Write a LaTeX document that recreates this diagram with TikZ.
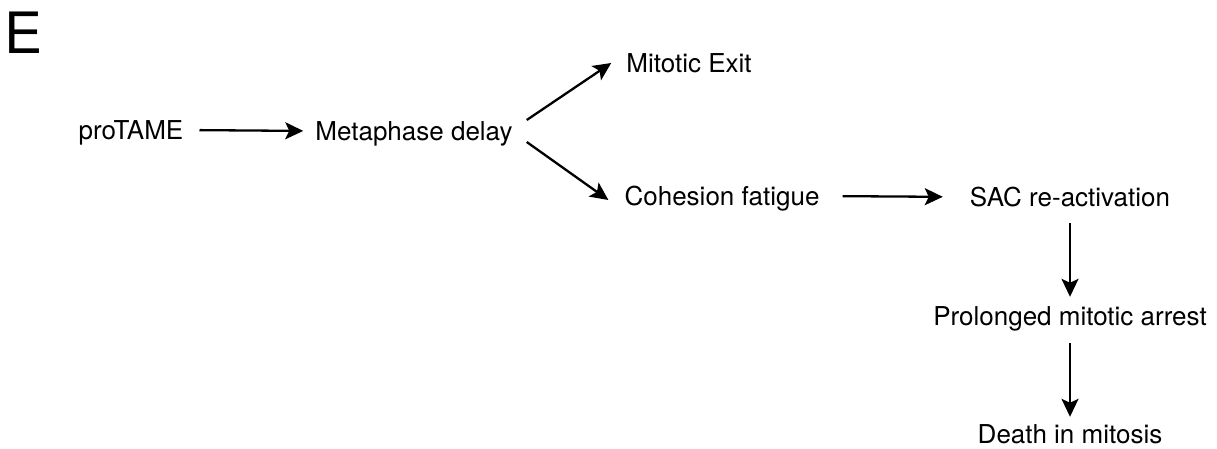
\documentclass[tikz,border=0pt]{standalone}
\usepackage{fontspec}
\setmainfont{TeX Gyre Heros}
\usetikzlibrary{arrows.meta}
\begin{document}
\begin{tikzpicture}[x=1pt,y=-1pt,
  lbl/.style={inner sep=0pt,text height=18pt,text depth=0pt,anchor=base,font=\fontsize{26}{30}\selectfont},
  arr/.style={line width=2.3pt,-{Stealth[length=18pt,width=17pt,inset=4pt]}}]
\useasboundingbox (0,0) rectangle (1217,448);
\node[inner sep=0pt,anchor=base west,font=\fontsize{57}{60}\selectfont] (E) at (4,53) {E};
\node[lbl] (pt) at (131,139) {proTAME};
\node[lbl] (md) at (414,140) {Metaphase delay};
\node[lbl] (me) at (689,72) {Mitotic Exit};
\node[lbl] (cf) at (722,205) {Cohesion fatigue};
\node[lbl] (sac) at (1070,206) {SAC re-activation};
\node[lbl] (pma) at (1070,325) {Prolonged mitotic arrest};
\node[lbl] (dim) at (1070,443) {Death in mitosis};
\draw[arr,shorten <=16pt,shorten >=12pt] (pt.east) -- (md.west);
\draw[arr] ([xshift=14pt,yshift=11pt]md.east) -- ([xshift=-15pt]me.west);
\draw[arr] ([xshift=14pt,yshift=-11pt]md.east) -- ([xshift=-16pt,yshift=-4pt]cf.west);
\draw[arr,shorten <=23pt,shorten >=27pt] (cf.east) -- (sac.west);
\draw[arr,shorten <=17pt,shorten >=10pt] (sac.south) -- (pma.north);
\draw[arr,shorten <=18pt,shorten >=8pt] (pma.south) -- (dim.north);
\end{tikzpicture}
\end{document}
